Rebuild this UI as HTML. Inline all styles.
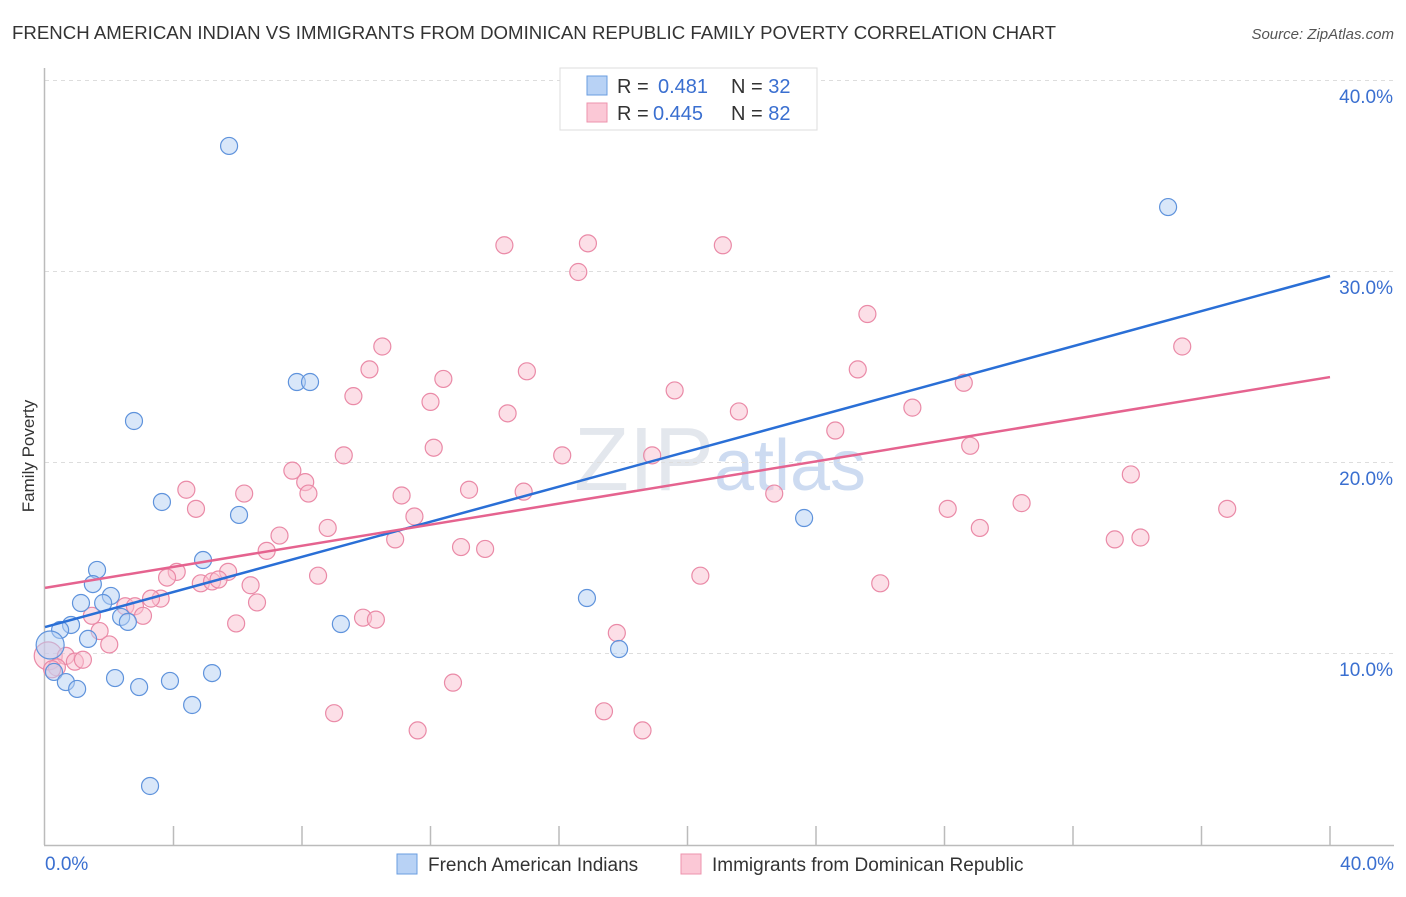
<!DOCTYPE html>
<html><head><meta charset="utf-8"><style>
body{margin:0;background:#fff;font-family:"Liberation Sans",sans-serif}
svg text{font-family:"Liberation Sans",sans-serif}
</style></head><body>
<svg id="chart" width="1406" height="892" xmlns="http://www.w3.org/2000/svg">
<text x="12" y="39" font-size="18" fill="#333" textLength="1044" lengthAdjust="spacingAndGlyphs">FRENCH AMERICAN INDIAN VS IMMIGRANTS FROM DOMINICAN REPUBLIC FAMILY POVERTY CORRELATION CHART</text>
<text x="1394" y="39" font-size="15" fill="#555" font-style="italic" text-anchor="end">Source: ZipAtlas.com</text>
<text x="720" y="490" font-size="90" fill="#d8dde6" text-anchor="middle" font-family="Liberation Serif" opacity="0.7">ZIP<tspan fill="#b8cdec" font-family="Liberation Sans" font-size="72">atlas</tspan></text>
<g id="grid"></g>
<g id="axes"></g>
<g id="pts"></g>
<g id="lines"></g>
<text transform="translate(34,456) rotate(-90)" font-size="17" fill="#333" text-anchor="middle">Family Poverty</text>
<g>
<rect x="560" y="68" width="257" height="62" fill="#fff" stroke="#ddd"/>
<rect x="587" y="76" width="20" height="19" fill="#b8d2f5" stroke="#6a9de0"/>
<rect x="587" y="103" width="20" height="19" fill="#fbc8d6" stroke="#ee93ad"/>
<text x="617" y="93" font-size="20" fill="#333">R = <tspan fill="#3a6fd0" x="658">0.481</tspan><tspan x="731" fill="#333">N = </tspan><tspan fill="#3a6fd0">32</tspan></text>
<text x="617" y="120" font-size="20" fill="#333">R = <tspan fill="#3a6fd0" x="653">0.445</tspan><tspan x="731" fill="#333">N = </tspan><tspan fill="#3a6fd0">82</tspan></text>
</g>
<g>
<rect x="397" y="854" width="20" height="20" fill="#b8d2f5" stroke="#6a9de0"/>
<text x="428" y="871" font-size="19" fill="#333">French American Indians</text>
<rect x="681" y="854" width="20" height="20" fill="#fbc8d6" stroke="#ee93ad"/>
<text x="712" y="871" font-size="19" fill="#333">Immigrants from Dominican Republic</text>
</g>
</svg>
<script>
const yTicks=[10,20,30,40];
const yTickLabels=["10.0%","20.0%","30.0%","40.0%"];
const xTickLabels=["0.0%","40.0%"];
const blueX=[5.73,34.96,7.84,8.25,2.77,3.64,6.04,23.63,4.92,1.62,1.49,2.05,1.12,1.81,16.87,2.37,2.58,0.81,0.47,1.34,9.21,17.87,0.16,0.28,0.65,1.0,2.18,2.93,3.89,5.2,4.58,3.27];
const blueY=[36.6,33.4,24.24,24.24,22.2,17.96,17.28,17.12,14.92,14.4,13.66,13.04,12.67,12.67,12.93,11.94,11.68,11.52,11.26,10.79,11.57,10.26,10.47,9.06,8.53,8.17,8.74,8.27,8.59,9.0,7.33,3.09];
const pinkX=[14.3,16.9,21.1,16.6,25.6,10.5,35.4,10.1,15.0,25.3,12.4,19.6,28.6,9.6,12.0,14.4,21.6,27.0,24.6,12.1,28.8,9.3,16.1,18.9,33.8,7.7,8.1,4.4,6.2,8.2,13.2,14.9,11.1,22.7,4.7,30.4,28.1,36.8,11.5,8.8,29.1,7.3,10.9,33.3,34.1,12.95,13.7,6.9,4.1,5.7,3.8,8.5,20.4,4.85,5.2,5.4,6.4,26.0,3.6,3.3,6.6,2.5,2.8,3.05,1.46,9.9,10.3,5.95,17.8,1.7,2.0,0.1,0.65,0.93,1.18,0.37,0.22,12.7,9.0,17.4,11.6,18.6];
const pinkY=[31.4,31.5,31.4,30.0,27.8,26.1,26.1,24.9,24.8,24.9,24.4,23.8,24.2,23.5,23.2,22.6,22.7,22.9,21.7,20.8,20.9,20.4,20.4,20.4,19.4,19.6,19.0,18.6,18.4,18.4,18.6,18.5,18.3,18.4,17.6,17.9,17.6,17.6,17.2,16.6,16.6,16.2,16.0,16.0,16.1,15.6,15.5,15.4,14.3,14.3,14.0,14.1,14.1,13.7,13.8,13.9,13.6,13.7,12.9,12.9,12.7,12.5,12.5,12.0,12.0,11.9,11.8,11.6,11.1,11.2,10.5,9.9,9.9,9.6,9.7,9.3,9.2,8.5,6.9,7.0,6.0,6.0];
const blueFit=[11.41,29.79];
const pinkFit=[13.46,24.5];
const NS="http://www.w3.org/2000/svg";
function X(v){return 45+v*32.125;}
function Y(v){return 845-v*19.1;}
function mk(t,a,p){const e=document.createElementNS(NS,t);for(const k in a)e.setAttribute(k,a[k]);p.appendChild(e);return e;}
const grid=document.getElementById('grid'),axes=document.getElementById('axes'),pts=document.getElementById('pts'),lines=document.getElementById('lines');
yTicks.forEach((t,i)=>{
 const l=mk('line',{x1:45,x2:1394,y1:Y(t)-0.5,y2:Y(t)-0.5,stroke:'#ddd','stroke-dasharray':'4,4'},grid);
 
 
 const tx=mk('text',{x:1393,y:Y(t)+22,'font-size':19,fill:'#3a6fd0','text-anchor':'end'},axes);
 tx.textContent=yTickLabels[i];
 
 
});
const a1=mk('line',{x1:44.5,x2:44.5,y1:68,y2:845,stroke:'#bbb','stroke-width':1.5},axes);


const a2=mk('line',{x1:44,x2:1394,y1:845.5,y2:845.5,stroke:'#bbb','stroke-width':1.5},axes);


for(let i=1;i<=10;i++){
 const t=mk('line',{x1:X(i*4),x2:X(i*4),y1:826,y2:845,stroke:'#bbb','stroke-width':1.5},axes);
 
 
}
[[0,'start',45],[40,'end',1394]].forEach((d,i)=>{
 const tx=mk('text',{x:d[2],y:870,'font-size':19,fill:'#3a6fd0','text-anchor':d[1]},axes);
 tx.textContent=xTickLabels[i];
 
 
});
function dots(xs,ys,fill,stroke,name,bigIdx){
 xs.forEach((x,i)=>{
  const c=mk('circle',{cx:X(x),cy:Y(ys[i]),r:(i===bigIdx?14:8.5),fill:fill,'fill-opacity':0.5,stroke:stroke,'stroke-width':1.2},pts);
  
  
 });
}
dots(pinkX,pinkY,'#f9c0d0','#ea8aa7','pink-point',71);
dots(blueX,blueY,'#b3cff3','#5f93dc','blue-point',22);
const lb=mk('line',{x1:X(0),y1:Y(blueFit[0]),x2:X(40),y2:Y(blueFit[1]),stroke:'#2a6fd6','stroke-width':2.5},lines);


const lp=mk('line',{x1:X(0),y1:Y(pinkFit[0]),x2:X(40),y2:Y(pinkFit[1]),stroke:'#e5638f','stroke-width':2.5},lines);


</script>
</body></html>
